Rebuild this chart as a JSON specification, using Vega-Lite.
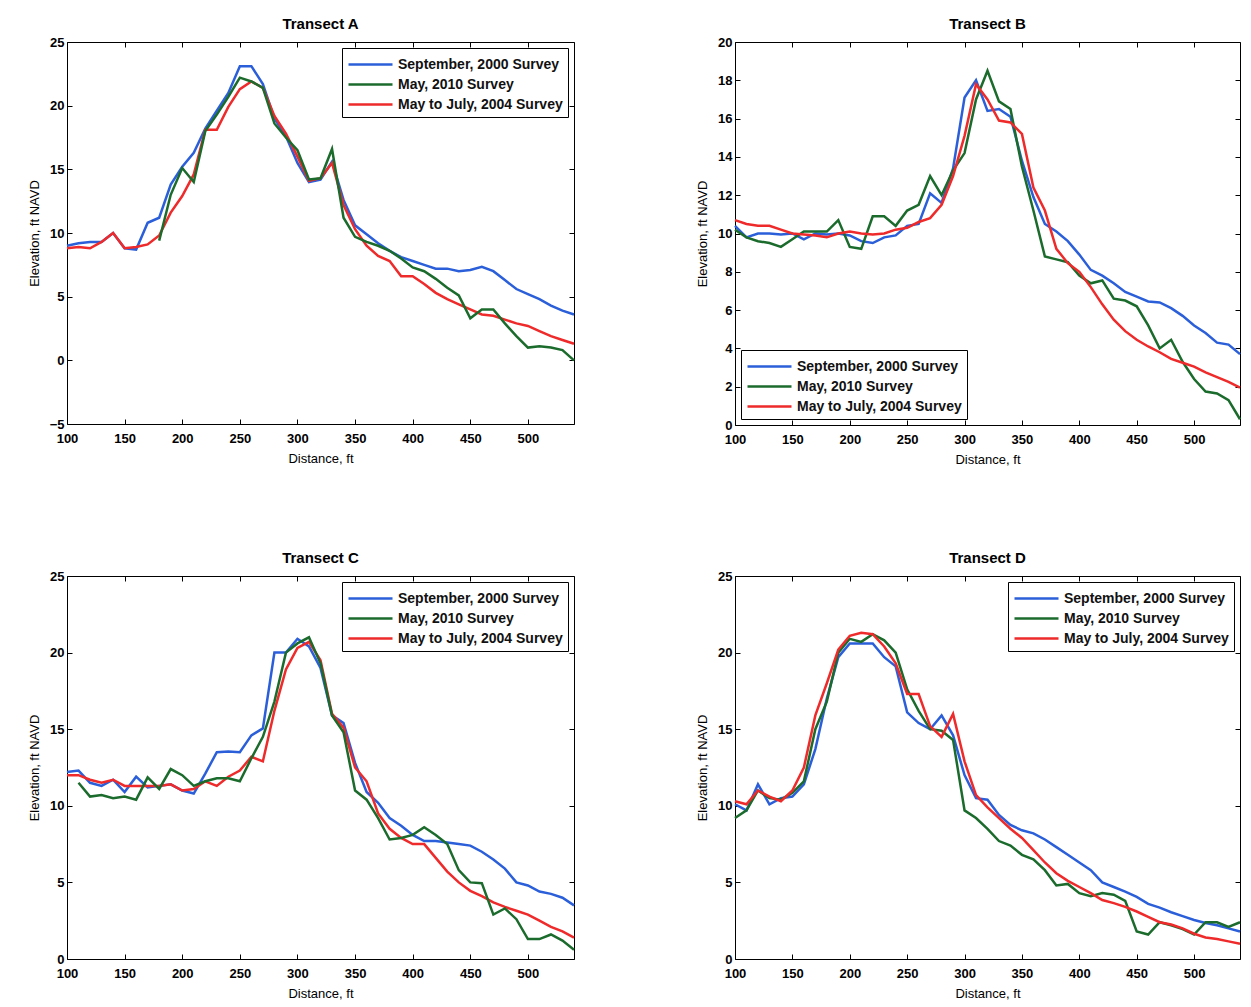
{
  "$schema": "https://vega.github.io/schema/vega-lite/v6.json",
  "background": "white",
  "padding": {"left": 27, "top": 16, "right": 5, "bottom": 5},
  "datasets": {
    "A": [
      {"d":100,"September, 2000 Survey":9.0,"May, 2010 Survey":null,"May to July, 2004 Survey":8.8},
      {"d":110,"September, 2000 Survey":9.2,"May, 2010 Survey":null,"May to July, 2004 Survey":8.9},
      {"d":120,"September, 2000 Survey":9.3,"May, 2010 Survey":null,"May to July, 2004 Survey":8.8},
      {"d":130,"September, 2000 Survey":9.3,"May, 2010 Survey":null,"May to July, 2004 Survey":9.3},
      {"d":140,"September, 2000 Survey":10.0,"May, 2010 Survey":null,"May to July, 2004 Survey":10.0},
      {"d":150,"September, 2000 Survey":8.8,"May, 2010 Survey":null,"May to July, 2004 Survey":8.8},
      {"d":160,"September, 2000 Survey":8.7,"May, 2010 Survey":null,"May to July, 2004 Survey":8.9},
      {"d":170,"September, 2000 Survey":10.8,"May, 2010 Survey":null,"May to July, 2004 Survey":9.1},
      {"d":180,"September, 2000 Survey":11.2,"May, 2010 Survey":9.4,"May to July, 2004 Survey":9.8},
      {"d":190,"September, 2000 Survey":13.8,"May, 2010 Survey":13.0,"May to July, 2004 Survey":11.6},
      {"d":200,"September, 2000 Survey":15.2,"May, 2010 Survey":15.1,"May to July, 2004 Survey":12.9},
      {"d":210,"September, 2000 Survey":16.3,"May, 2010 Survey":14.0,"May to July, 2004 Survey":14.6},
      {"d":220,"September, 2000 Survey":18.2,"May, 2010 Survey":18.0,"May to July, 2004 Survey":18.1},
      {"d":230,"September, 2000 Survey":19.6,"May, 2010 Survey":19.3,"May to July, 2004 Survey":18.1},
      {"d":240,"September, 2000 Survey":21.0,"May, 2010 Survey":20.7,"May to July, 2004 Survey":19.9},
      {"d":250,"September, 2000 Survey":23.1,"May, 2010 Survey":22.2,"May to July, 2004 Survey":21.3},
      {"d":260,"September, 2000 Survey":23.1,"May, 2010 Survey":21.9,"May to July, 2004 Survey":21.9},
      {"d":270,"September, 2000 Survey":21.7,"May, 2010 Survey":21.4,"May to July, 2004 Survey":21.4},
      {"d":280,"September, 2000 Survey":19.0,"May, 2010 Survey":18.6,"May to July, 2004 Survey":19.2},
      {"d":290,"September, 2000 Survey":17.6,"May, 2010 Survey":17.5,"May to July, 2004 Survey":17.8},
      {"d":300,"September, 2000 Survey":15.5,"May, 2010 Survey":16.5,"May to July, 2004 Survey":16.0},
      {"d":310,"September, 2000 Survey":14.0,"May, 2010 Survey":14.2,"May to July, 2004 Survey":14.1},
      {"d":320,"September, 2000 Survey":14.2,"May, 2010 Survey":14.3,"May to July, 2004 Survey":14.3},
      {"d":330,"September, 2000 Survey":15.6,"May, 2010 Survey":16.6,"May to July, 2004 Survey":15.5},
      {"d":340,"September, 2000 Survey":12.6,"May, 2010 Survey":11.2,"May to July, 2004 Survey":12.2},
      {"d":350,"September, 2000 Survey":10.6,"May, 2010 Survey":9.7,"May to July, 2004 Survey":10.3},
      {"d":360,"September, 2000 Survey":9.9,"May, 2010 Survey":9.3,"May to July, 2004 Survey":9.0},
      {"d":370,"September, 2000 Survey":9.2,"May, 2010 Survey":9.0,"May to July, 2004 Survey":8.2},
      {"d":380,"September, 2000 Survey":8.6,"May, 2010 Survey":8.6,"May to July, 2004 Survey":7.8},
      {"d":390,"September, 2000 Survey":8.1,"May, 2010 Survey":8.0,"May to July, 2004 Survey":6.6},
      {"d":400,"September, 2000 Survey":7.8,"May, 2010 Survey":7.3,"May to July, 2004 Survey":6.6},
      {"d":410,"September, 2000 Survey":7.5,"May, 2010 Survey":7.0,"May to July, 2004 Survey":6.0},
      {"d":420,"September, 2000 Survey":7.2,"May, 2010 Survey":6.4,"May to July, 2004 Survey":5.3},
      {"d":430,"September, 2000 Survey":7.2,"May, 2010 Survey":5.7,"May to July, 2004 Survey":4.8},
      {"d":440,"September, 2000 Survey":7.0,"May, 2010 Survey":5.1,"May to July, 2004 Survey":4.4},
      {"d":450,"September, 2000 Survey":7.1,"May, 2010 Survey":3.3,"May to July, 2004 Survey":4.0},
      {"d":460,"September, 2000 Survey":7.35,"May, 2010 Survey":4.0,"May to July, 2004 Survey":3.6},
      {"d":470,"September, 2000 Survey":7.0,"May, 2010 Survey":4.0,"May to July, 2004 Survey":3.5},
      {"d":480,"September, 2000 Survey":6.3,"May, 2010 Survey":2.9,"May to July, 2004 Survey":3.2},
      {"d":490,"September, 2000 Survey":5.6,"May, 2010 Survey":1.9,"May to July, 2004 Survey":2.9},
      {"d":500,"September, 2000 Survey":5.2,"May, 2010 Survey":1.0,"May to July, 2004 Survey":2.7},
      {"d":510,"September, 2000 Survey":4.8,"May, 2010 Survey":1.1,"May to July, 2004 Survey":2.3},
      {"d":520,"September, 2000 Survey":4.3,"May, 2010 Survey":1.0,"May to July, 2004 Survey":1.9},
      {"d":530,"September, 2000 Survey":3.9,"May, 2010 Survey":0.8,"May to July, 2004 Survey":1.6},
      {"d":540,"September, 2000 Survey":3.6,"May, 2010 Survey":0.0,"May to July, 2004 Survey":1.3}
    ],
    "B": [
      {"d":100,"September, 2000 Survey":10.4,"May, 2010 Survey":10.2,"May to July, 2004 Survey":10.7},
      {"d":110,"September, 2000 Survey":9.8,"May, 2010 Survey":9.8,"May to July, 2004 Survey":10.5},
      {"d":120,"September, 2000 Survey":10.0,"May, 2010 Survey":9.6,"May to July, 2004 Survey":10.4},
      {"d":130,"September, 2000 Survey":10.0,"May, 2010 Survey":9.5,"May to July, 2004 Survey":10.4},
      {"d":140,"September, 2000 Survey":9.95,"May, 2010 Survey":9.3,"May to July, 2004 Survey":10.2},
      {"d":150,"September, 2000 Survey":10.0,"May, 2010 Survey":9.7,"May to July, 2004 Survey":10.0},
      {"d":160,"September, 2000 Survey":9.7,"May, 2010 Survey":10.1,"May to July, 2004 Survey":9.95},
      {"d":170,"September, 2000 Survey":10.0,"May, 2010 Survey":10.1,"May to July, 2004 Survey":9.9},
      {"d":180,"September, 2000 Survey":9.95,"May, 2010 Survey":10.1,"May to July, 2004 Survey":9.8},
      {"d":190,"September, 2000 Survey":10.0,"May, 2010 Survey":10.7,"May to July, 2004 Survey":10.0},
      {"d":200,"September, 2000 Survey":9.9,"May, 2010 Survey":9.3,"May to July, 2004 Survey":10.1},
      {"d":210,"September, 2000 Survey":9.6,"May, 2010 Survey":9.2,"May to July, 2004 Survey":10.0},
      {"d":220,"September, 2000 Survey":9.5,"May, 2010 Survey":10.9,"May to July, 2004 Survey":9.95},
      {"d":230,"September, 2000 Survey":9.8,"May, 2010 Survey":10.9,"May to July, 2004 Survey":10.0},
      {"d":240,"September, 2000 Survey":9.9,"May, 2010 Survey":10.4,"May to July, 2004 Survey":10.2},
      {"d":250,"September, 2000 Survey":10.4,"May, 2010 Survey":11.2,"May to July, 2004 Survey":10.3},
      {"d":260,"September, 2000 Survey":10.5,"May, 2010 Survey":11.5,"May to July, 2004 Survey":10.6},
      {"d":270,"September, 2000 Survey":12.1,"May, 2010 Survey":13.0,"May to July, 2004 Survey":10.8},
      {"d":280,"September, 2000 Survey":11.6,"May, 2010 Survey":12.0,"May to July, 2004 Survey":11.5},
      {"d":290,"September, 2000 Survey":13.4,"May, 2010 Survey":13.3,"May to July, 2004 Survey":13.0},
      {"d":300,"September, 2000 Survey":17.1,"May, 2010 Survey":14.2,"May to July, 2004 Survey":15.1},
      {"d":310,"September, 2000 Survey":18.0,"May, 2010 Survey":17.0,"May to July, 2004 Survey":17.8},
      {"d":320,"September, 2000 Survey":16.4,"May, 2010 Survey":18.5,"May to July, 2004 Survey":17.0},
      {"d":330,"September, 2000 Survey":16.5,"May, 2010 Survey":16.9,"May to July, 2004 Survey":15.9},
      {"d":340,"September, 2000 Survey":16.1,"May, 2010 Survey":16.5,"May to July, 2004 Survey":15.8},
      {"d":350,"September, 2000 Survey":13.8,"May, 2010 Survey":13.5,"May to July, 2004 Survey":15.2},
      {"d":360,"September, 2000 Survey":11.9,"May, 2010 Survey":11.2,"May to July, 2004 Survey":12.4},
      {"d":370,"September, 2000 Survey":10.5,"May, 2010 Survey":8.8,"May to July, 2004 Survey":11.2},
      {"d":380,"September, 2000 Survey":10.1,"May, 2010 Survey":8.65,"May to July, 2004 Survey":9.2},
      {"d":390,"September, 2000 Survey":9.6,"May, 2010 Survey":8.5,"May to July, 2004 Survey":8.45},
      {"d":400,"September, 2000 Survey":8.9,"May, 2010 Survey":7.8,"May to July, 2004 Survey":8.0},
      {"d":410,"September, 2000 Survey":8.1,"May, 2010 Survey":7.4,"May to July, 2004 Survey":7.2},
      {"d":420,"September, 2000 Survey":7.8,"May, 2010 Survey":7.55,"May to July, 2004 Survey":6.3},
      {"d":430,"September, 2000 Survey":7.4,"May, 2010 Survey":6.6,"May to July, 2004 Survey":5.5},
      {"d":440,"September, 2000 Survey":6.95,"May, 2010 Survey":6.5,"May to July, 2004 Survey":4.9},
      {"d":450,"September, 2000 Survey":6.7,"May, 2010 Survey":6.2,"May to July, 2004 Survey":4.45},
      {"d":460,"September, 2000 Survey":6.45,"May, 2010 Survey":5.2,"May to July, 2004 Survey":4.1},
      {"d":470,"September, 2000 Survey":6.4,"May, 2010 Survey":4.0,"May to July, 2004 Survey":3.8},
      {"d":480,"September, 2000 Survey":6.1,"May, 2010 Survey":4.45,"May to July, 2004 Survey":3.45},
      {"d":490,"September, 2000 Survey":5.7,"May, 2010 Survey":3.3,"May to July, 2004 Survey":3.25},
      {"d":500,"September, 2000 Survey":5.2,"May, 2010 Survey":2.4,"May to July, 2004 Survey":3.05},
      {"d":510,"September, 2000 Survey":4.8,"May, 2010 Survey":1.75,"May to July, 2004 Survey":2.75},
      {"d":520,"September, 2000 Survey":4.3,"May, 2010 Survey":1.65,"May to July, 2004 Survey":2.5},
      {"d":530,"September, 2000 Survey":4.2,"May, 2010 Survey":1.3,"May to July, 2004 Survey":2.25},
      {"d":540,"September, 2000 Survey":3.7,"May, 2010 Survey":0.3,"May to July, 2004 Survey":1.95}
    ],
    "C": [
      {"d":100,"September, 2000 Survey":12.2,"May, 2010 Survey":null,"May to July, 2004 Survey":12.0},
      {"d":110,"September, 2000 Survey":12.3,"May, 2010 Survey":11.5,"May to July, 2004 Survey":12.0},
      {"d":120,"September, 2000 Survey":11.5,"May, 2010 Survey":10.6,"May to July, 2004 Survey":11.7},
      {"d":130,"September, 2000 Survey":11.3,"May, 2010 Survey":10.7,"May to July, 2004 Survey":11.5},
      {"d":140,"September, 2000 Survey":11.7,"May, 2010 Survey":10.5,"May to July, 2004 Survey":11.7},
      {"d":150,"September, 2000 Survey":10.9,"May, 2010 Survey":10.6,"May to July, 2004 Survey":11.3},
      {"d":160,"September, 2000 Survey":11.9,"May, 2010 Survey":10.4,"May to July, 2004 Survey":11.3},
      {"d":170,"September, 2000 Survey":11.2,"May, 2010 Survey":11.85,"May to July, 2004 Survey":11.3},
      {"d":180,"September, 2000 Survey":11.3,"May, 2010 Survey":11.1,"May to July, 2004 Survey":11.3},
      {"d":190,"September, 2000 Survey":11.4,"May, 2010 Survey":12.4,"May to July, 2004 Survey":11.4},
      {"d":200,"September, 2000 Survey":11.0,"May, 2010 Survey":12.0,"May to July, 2004 Survey":11.0},
      {"d":210,"September, 2000 Survey":10.8,"May, 2010 Survey":11.3,"May to July, 2004 Survey":11.1},
      {"d":220,"September, 2000 Survey":12.1,"May, 2010 Survey":11.6,"May to July, 2004 Survey":11.6},
      {"d":230,"September, 2000 Survey":13.5,"May, 2010 Survey":11.8,"May to July, 2004 Survey":11.3},
      {"d":240,"September, 2000 Survey":13.55,"May, 2010 Survey":11.8,"May to July, 2004 Survey":11.9},
      {"d":250,"September, 2000 Survey":13.5,"May, 2010 Survey":11.6,"May to July, 2004 Survey":12.3},
      {"d":260,"September, 2000 Survey":14.6,"May, 2010 Survey":13.1,"May to July, 2004 Survey":13.2},
      {"d":270,"September, 2000 Survey":15.05,"May, 2010 Survey":14.5,"May to July, 2004 Survey":12.9},
      {"d":280,"September, 2000 Survey":20.0,"May, 2010 Survey":16.8,"May to July, 2004 Survey":16.2},
      {"d":290,"September, 2000 Survey":20.0,"May, 2010 Survey":20.0,"May to July, 2004 Survey":18.9},
      {"d":300,"September, 2000 Survey":20.9,"May, 2010 Survey":20.6,"May to July, 2004 Survey":20.3},
      {"d":310,"September, 2000 Survey":20.4,"May, 2010 Survey":21.0,"May to July, 2004 Survey":20.7},
      {"d":320,"September, 2000 Survey":19.0,"May, 2010 Survey":19.3,"May to July, 2004 Survey":19.5},
      {"d":330,"September, 2000 Survey":15.9,"May, 2010 Survey":15.9,"May to July, 2004 Survey":16.0},
      {"d":340,"September, 2000 Survey":15.4,"May, 2010 Survey":14.8,"May to July, 2004 Survey":15.1},
      {"d":350,"September, 2000 Survey":12.8,"May, 2010 Survey":11.0,"May to July, 2004 Survey":12.5},
      {"d":360,"September, 2000 Survey":10.9,"May, 2010 Survey":10.4,"May to July, 2004 Survey":11.6},
      {"d":370,"September, 2000 Survey":10.2,"May, 2010 Survey":9.2,"May to July, 2004 Survey":9.5},
      {"d":380,"September, 2000 Survey":9.2,"May, 2010 Survey":7.8,"May to July, 2004 Survey":8.5},
      {"d":390,"September, 2000 Survey":8.7,"May, 2010 Survey":7.9,"May to July, 2004 Survey":7.9},
      {"d":400,"September, 2000 Survey":8.1,"May, 2010 Survey":8.1,"May to July, 2004 Survey":7.5},
      {"d":410,"September, 2000 Survey":7.7,"May, 2010 Survey":8.6,"May to July, 2004 Survey":7.5},
      {"d":420,"September, 2000 Survey":7.7,"May, 2010 Survey":8.1,"May to July, 2004 Survey":6.6},
      {"d":430,"September, 2000 Survey":7.6,"May, 2010 Survey":7.5,"May to July, 2004 Survey":5.7},
      {"d":440,"September, 2000 Survey":7.5,"May, 2010 Survey":5.8,"May to July, 2004 Survey":5.0},
      {"d":450,"September, 2000 Survey":7.4,"May, 2010 Survey":5.0,"May to July, 2004 Survey":4.45},
      {"d":460,"September, 2000 Survey":7.0,"May, 2010 Survey":4.95,"May to July, 2004 Survey":4.1},
      {"d":470,"September, 2000 Survey":6.5,"May, 2010 Survey":2.9,"May to July, 2004 Survey":3.7},
      {"d":480,"September, 2000 Survey":5.9,"May, 2010 Survey":3.3,"May to July, 2004 Survey":3.4},
      {"d":490,"September, 2000 Survey":5.0,"May, 2010 Survey":2.6,"May to July, 2004 Survey":3.15},
      {"d":500,"September, 2000 Survey":4.8,"May, 2010 Survey":1.3,"May to July, 2004 Survey":2.9},
      {"d":510,"September, 2000 Survey":4.4,"May, 2010 Survey":1.3,"May to July, 2004 Survey":2.5},
      {"d":520,"September, 2000 Survey":4.25,"May, 2010 Survey":1.6,"May to July, 2004 Survey":2.1},
      {"d":530,"September, 2000 Survey":4.0,"May, 2010 Survey":1.2,"May to July, 2004 Survey":1.8},
      {"d":540,"September, 2000 Survey":3.5,"May, 2010 Survey":0.6,"May to July, 2004 Survey":1.4}
    ],
    "D": [
      {"d":100,"September, 2000 Survey":10.1,"May, 2010 Survey":9.2,"May to July, 2004 Survey":10.3},
      {"d":110,"September, 2000 Survey":9.7,"May, 2010 Survey":9.7,"May to July, 2004 Survey":10.1},
      {"d":120,"September, 2000 Survey":11.4,"May, 2010 Survey":11.0,"May to July, 2004 Survey":11.0},
      {"d":130,"September, 2000 Survey":10.1,"May, 2010 Survey":10.5,"May to July, 2004 Survey":10.6},
      {"d":140,"September, 2000 Survey":10.5,"May, 2010 Survey":10.4,"May to July, 2004 Survey":10.3},
      {"d":150,"September, 2000 Survey":10.6,"May, 2010 Survey":10.85,"May to July, 2004 Survey":11.0},
      {"d":160,"September, 2000 Survey":11.4,"May, 2010 Survey":11.6,"May to July, 2004 Survey":12.5},
      {"d":170,"September, 2000 Survey":13.7,"May, 2010 Survey":15.0,"May to July, 2004 Survey":15.9},
      {"d":180,"September, 2000 Survey":17.0,"May, 2010 Survey":16.8,"May to July, 2004 Survey":18.0},
      {"d":190,"September, 2000 Survey":19.7,"May, 2010 Survey":20.0,"May to July, 2004 Survey":20.2},
      {"d":200,"September, 2000 Survey":20.6,"May, 2010 Survey":20.9,"May to July, 2004 Survey":21.1},
      {"d":210,"September, 2000 Survey":20.6,"May, 2010 Survey":20.7,"May to July, 2004 Survey":21.3},
      {"d":220,"September, 2000 Survey":20.6,"May, 2010 Survey":21.2,"May to July, 2004 Survey":21.2},
      {"d":230,"September, 2000 Survey":19.7,"May, 2010 Survey":20.8,"May to July, 2004 Survey":20.4},
      {"d":240,"September, 2000 Survey":19.1,"May, 2010 Survey":20.0,"May to July, 2004 Survey":19.3},
      {"d":250,"September, 2000 Survey":16.1,"May, 2010 Survey":17.6,"May to July, 2004 Survey":17.3},
      {"d":260,"September, 2000 Survey":15.4,"May, 2010 Survey":16.2,"May to July, 2004 Survey":17.3},
      {"d":270,"September, 2000 Survey":15.0,"May, 2010 Survey":15.0,"May to July, 2004 Survey":15.2},
      {"d":280,"September, 2000 Survey":15.9,"May, 2010 Survey":14.9,"May to July, 2004 Survey":14.5},
      {"d":290,"September, 2000 Survey":14.6,"May, 2010 Survey":14.3,"May to July, 2004 Survey":16.0},
      {"d":300,"September, 2000 Survey":12.0,"May, 2010 Survey":9.7,"May to July, 2004 Survey":12.9},
      {"d":310,"September, 2000 Survey":10.5,"May, 2010 Survey":9.2,"May to July, 2004 Survey":10.7},
      {"d":320,"September, 2000 Survey":10.4,"May, 2010 Survey":8.5,"May to July, 2004 Survey":9.9},
      {"d":330,"September, 2000 Survey":9.4,"May, 2010 Survey":7.7,"May to July, 2004 Survey":9.2},
      {"d":340,"September, 2000 Survey":8.75,"May, 2010 Survey":7.4,"May to July, 2004 Survey":8.5},
      {"d":350,"September, 2000 Survey":8.4,"May, 2010 Survey":6.8,"May to July, 2004 Survey":7.9},
      {"d":360,"September, 2000 Survey":8.2,"May, 2010 Survey":6.5,"May to July, 2004 Survey":7.1},
      {"d":370,"September, 2000 Survey":7.8,"May, 2010 Survey":5.8,"May to July, 2004 Survey":6.3},
      {"d":380,"September, 2000 Survey":7.3,"May, 2010 Survey":4.8,"May to July, 2004 Survey":5.6},
      {"d":390,"September, 2000 Survey":6.8,"May, 2010 Survey":4.9,"May to July, 2004 Survey":5.1},
      {"d":400,"September, 2000 Survey":6.3,"May, 2010 Survey":4.3,"May to July, 2004 Survey":4.7},
      {"d":410,"September, 2000 Survey":5.8,"May, 2010 Survey":4.1,"May to July, 2004 Survey":4.3},
      {"d":420,"September, 2000 Survey":5.0,"May, 2010 Survey":4.3,"May to July, 2004 Survey":3.85},
      {"d":430,"September, 2000 Survey":4.7,"May, 2010 Survey":4.2,"May to July, 2004 Survey":3.65},
      {"d":440,"September, 2000 Survey":4.4,"May, 2010 Survey":3.8,"May to July, 2004 Survey":3.4},
      {"d":450,"September, 2000 Survey":4.05,"May, 2010 Survey":1.8,"May to July, 2004 Survey":3.1},
      {"d":460,"September, 2000 Survey":3.6,"May, 2010 Survey":1.6,"May to July, 2004 Survey":2.75},
      {"d":470,"September, 2000 Survey":3.35,"May, 2010 Survey":2.4,"May to July, 2004 Survey":2.4},
      {"d":480,"September, 2000 Survey":3.05,"May, 2010 Survey":2.2,"May to July, 2004 Survey":2.25},
      {"d":490,"September, 2000 Survey":2.8,"May, 2010 Survey":1.95,"May to July, 2004 Survey":2.0},
      {"d":500,"September, 2000 Survey":2.55,"May, 2010 Survey":1.6,"May to July, 2004 Survey":1.65},
      {"d":510,"September, 2000 Survey":2.35,"May, 2010 Survey":2.4,"May to July, 2004 Survey":1.4},
      {"d":520,"September, 2000 Survey":2.2,"May, 2010 Survey":2.4,"May to July, 2004 Survey":1.3},
      {"d":530,"September, 2000 Survey":2.0,"May, 2010 Survey":2.1,"May to July, 2004 Survey":1.15},
      {"d":540,"September, 2000 Survey":1.8,"May, 2010 Survey":2.4,"May to July, 2004 Survey":1.0}
    ]
  },
  "columns": 2,
  "spacing": {"row": 151, "column": 161},
  "bounds": "flush",
  "resolve": {"scale": {"color": "independent"}, "legend": {"color": "independent"}},
  "concat": [
    {
      "title": "Transect A",
      "width": 507, "height": 382,
      "data": {"name": "A"},
      "transform": [
        {"fold": ["September, 2000 Survey", "May, 2010 Survey", "May to July, 2004 Survey"], "as": ["s", "e"]},
        {"filter": "datum.e != null"}
      ],
      "layer": [
        {
          "mark": {"type": "line", "strokeWidth": 2.5},
          "encoding": {
            "x": {"field": "d", "type": "quantitative", "scale": {"domain": [100, 540], "nice": false, "zero": false}, "axis": {"title": "Distance, ft", "values": [100,150,200,250,300,350,400,450,500]}},
            "y": {"field": "e", "type": "quantitative", "scale": {"domain": [-5, 25], "nice": false, "zero": false}, "axis": {"title": "Elevation, ft NAVD", "values": [-5,0,5,10,15,20,25]}},
            "color": {"field": "s", "type": "nominal", "scale": {"domain": ["September, 2000 Survey", "May, 2010 Survey", "May to July, 2004 Survey"], "range": ["#2b5fd9", "#1b6b2c", "#ee2a2a"]}, "legend": {"orient": "top-right", "offset": 6}}
          }
        },
        {
          "mark": {"type": "line", "opacity": 0},
          "encoding": {
            "x": {"field": "d", "type": "quantitative", "axis": {"orient": "top", "labels": false, "title": null, "values": [100,150,200,250,300,350,400,450,500]}},
            "y": {"field": "e", "type": "quantitative", "axis": {"orient": "right", "labels": false, "title": null, "values": [-5,0,5,10,15,20,25]}},
            "detail": {"field": "s"}
          }
        }
      ],
      "resolve": {"axis": {"x": "independent", "y": "independent"}}
    },
    {
      "title": "Transect B",
      "width": 505, "height": 383,
      "data": {"name": "B"},
      "transform": [
        {"fold": ["September, 2000 Survey", "May, 2010 Survey", "May to July, 2004 Survey"], "as": ["s", "e"]},
        {"filter": "datum.e != null"}
      ],
      "layer": [
        {
          "mark": {"type": "line", "strokeWidth": 2.5},
          "encoding": {
            "x": {"field": "d", "type": "quantitative", "scale": {"domain": [100, 540], "nice": false, "zero": false}, "axis": {"title": "Distance, ft", "values": [100,150,200,250,300,350,400,450,500]}},
            "y": {"field": "e", "type": "quantitative", "scale": {"domain": [0, 20], "nice": false, "zero": false}, "axis": {"title": "Elevation, ft NAVD", "values": [0,2,4,6,8,10,12,14,16,18,20]}},
            "color": {"field": "s", "type": "nominal", "scale": {"domain": ["September, 2000 Survey", "May, 2010 Survey", "May to July, 2004 Survey"], "range": ["#2b5fd9", "#1b6b2c", "#ee2a2a"]}, "legend": {"orient": "bottom-left", "offset": 6}}
          }
        },
        {
          "mark": {"type": "line", "opacity": 0},
          "encoding": {
            "x": {"field": "d", "type": "quantitative", "axis": {"orient": "top", "labels": false, "title": null, "values": [100,150,200,250,300,350,400,450,500]}},
            "y": {"field": "e", "type": "quantitative", "axis": {"orient": "right", "labels": false, "title": null, "values": [0,2,4,6,8,10,12,14,16,18,20]}},
            "detail": {"field": "s"}
          }
        }
      ],
      "resolve": {"axis": {"x": "independent", "y": "independent"}}
    },
    {
      "title": "Transect C",
      "width": 507, "height": 383,
      "data": {"name": "C"},
      "transform": [
        {"fold": ["September, 2000 Survey", "May, 2010 Survey", "May to July, 2004 Survey"], "as": ["s", "e"]},
        {"filter": "datum.e != null"}
      ],
      "layer": [
        {
          "mark": {"type": "line", "strokeWidth": 2.5},
          "encoding": {
            "x": {"field": "d", "type": "quantitative", "scale": {"domain": [100, 540], "nice": false, "zero": false}, "axis": {"title": "Distance, ft", "values": [100,150,200,250,300,350,400,450,500]}},
            "y": {"field": "e", "type": "quantitative", "scale": {"domain": [0, 25], "nice": false, "zero": false}, "axis": {"title": "Elevation, ft NAVD", "values": [0,5,10,15,20,25]}},
            "color": {"field": "s", "type": "nominal", "scale": {"domain": ["September, 2000 Survey", "May, 2010 Survey", "May to July, 2004 Survey"], "range": ["#2b5fd9", "#1b6b2c", "#ee2a2a"]}, "legend": {"orient": "top-right", "offset": 6}}
          }
        },
        {
          "mark": {"type": "line", "opacity": 0},
          "encoding": {
            "x": {"field": "d", "type": "quantitative", "axis": {"orient": "top", "labels": false, "title": null, "values": [100,150,200,250,300,350,400,450,500]}},
            "y": {"field": "e", "type": "quantitative", "axis": {"orient": "right", "labels": false, "title": null, "values": [0,5,10,15,20,25]}},
            "detail": {"field": "s"}
          }
        }
      ],
      "resolve": {"axis": {"x": "independent", "y": "independent"}}
    },
    {
      "title": "Transect D",
      "width": 505, "height": 383,
      "data": {"name": "D"},
      "transform": [
        {"fold": ["September, 2000 Survey", "May, 2010 Survey", "May to July, 2004 Survey"], "as": ["s", "e"]},
        {"filter": "datum.e != null"}
      ],
      "layer": [
        {
          "mark": {"type": "line", "strokeWidth": 2.5},
          "encoding": {
            "x": {"field": "d", "type": "quantitative", "scale": {"domain": [100, 540], "nice": false, "zero": false}, "axis": {"title": "Distance, ft", "values": [100,150,200,250,300,350,400,450,500]}},
            "y": {"field": "e", "type": "quantitative", "scale": {"domain": [0, 25], "nice": false, "zero": false}, "axis": {"title": "Elevation, ft NAVD", "values": [0,5,10,15,20,25]}},
            "color": {"field": "s", "type": "nominal", "scale": {"domain": ["September, 2000 Survey", "May, 2010 Survey", "May to July, 2004 Survey"], "range": ["#2b5fd9", "#1b6b2c", "#ee2a2a"]}, "legend": {"orient": "top-right", "offset": 6}}
          }
        },
        {
          "mark": {"type": "line", "opacity": 0},
          "encoding": {
            "x": {"field": "d", "type": "quantitative", "axis": {"orient": "top", "labels": false, "title": null, "values": [100,150,200,250,300,350,400,450,500]}},
            "y": {"field": "e", "type": "quantitative", "axis": {"orient": "right", "labels": false, "title": null, "values": [0,5,10,15,20,25]}},
            "detail": {"field": "s"}
          }
        }
      ],
      "resolve": {"axis": {"x": "independent", "y": "independent"}}
    }
  ],
  "config": {
    "font": "Liberation Sans",
    "view": {"stroke": "black", "strokeWidth": 1},
    "axis": {"domain": false, "grid": false, "tickSize": -5, "tickColor": "black", "tickWidth": 1, "labelColor": "black", "labelFontSize": 13, "labelFontWeight": "bold", "labelPadding": 8, "labelFlush": false, "titleFontSize": 13, "titleFontWeight": "normal", "titleColor": "black"},
    "axisY": {"titlePadding": 8},
    "axisX": {"titlePadding": 7, "labelPadding": 13},
    "title": {"fontSize": 15, "fontWeight": "bold", "color": "black", "offset": 4},
    "legend": {"title": null, "strokeColor": "black", "fillColor": "white", "padding": 5, "labelFontSize": 14, "labelFontWeight": "bold", "labelColor": "#111", "labelFont": "Liberation Sans", "labelLimit": 400, "symbolType": "M-1,0H3.4", "symbolSize": 400, "symbolStrokeWidth": 2.5, "rowPadding": 1, "labelOffset": 28, "cornerRadius": 0}
  }
}
